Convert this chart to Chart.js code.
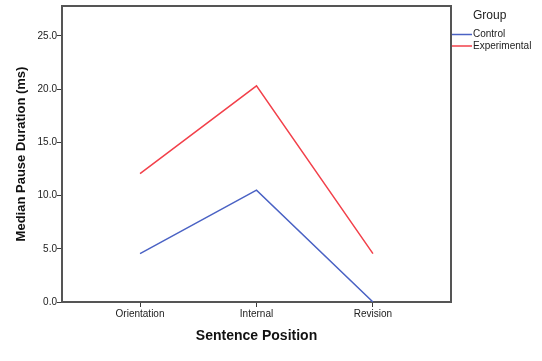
<!DOCTYPE html>
<html>
<head>
<meta charset="utf-8">
<script src="https://cdn.jsdelivr.net/npm/chart.js@4/dist/chart.umd.min.js"></script>
<style>
  html, body { margin: 0; padding: 0; background: #ffffff; }
  canvas { display: block; }
</style>
</head>
<body>
<canvas id="c" width="542" height="361"></canvas>
<script>
// ---- Data ----
const categories = ["Orientation", "Internal", "Revision"];
const controlValues = [4.55, 10.5, 0.0];
const experimentalValues = [12.05, 20.3, 4.55];
const yTickValues = [0, 5, 10, 15, 20, 25];
const seriesNames = ["Control", "Experimental"];
const legendTitle = "Group";
const xTitle = "Sentence Position";
const yTitle = "Median Pause Duration (ms)";

const colors = ["#4a62c4", "#f2404a"];
const FONT = "'Liberation Sans', Arial, sans-serif";

function toPoints(vals) { return vals.map((v, i) => ({ x: i, y: v })); }

const framePlugin = {
  id: 'frame',
  beforeDatasetsDraw(chart) {
    const { ctx, chartArea: a } = chart;
    ctx.save();
    ctx.strokeStyle = '#555555';
    ctx.lineWidth = 2;
    ctx.strokeRect(a.left, a.top, a.right - a.left, a.bottom - a.top);
    ctx.restore();
  }
};

const legendPlugin = {
  id: 'customLegend',
  afterDraw(chart) {
    const ctx = chart.ctx;
    ctx.save();
    ctx.fillStyle = '#222';
    ctx.textBaseline = 'middle';
    ctx.textAlign = 'left';
    ctx.font = "12px " + FONT;
    ctx.fillText(legendTitle, 473, 16);
    ctx.font = "10px " + FONT;
    const ys = [34.5, 46];
    seriesNames.forEach((n, i) => {
      ctx.strokeStyle = colors[i];
      ctx.lineWidth = 1.5;
      ctx.beginPath();
      ctx.moveTo(452, ys[i]);
      ctx.lineTo(472, ys[i]);
      ctx.stroke();
      ctx.fillStyle = '#222';
      ctx.fillText(n, 473, ys[i]);
    });
    ctx.restore();
  }
};

new Chart(document.getElementById('c'), {
  type: 'line',
  data: {
    datasets: [
      { label: seriesNames[0], data: toPoints(controlValues), borderColor: colors[0], backgroundColor: colors[0], borderWidth: 1.5, pointRadius: 0, tension: 0, fill: false },
      { label: seriesNames[1], data: toPoints(experimentalValues), borderColor: colors[1], backgroundColor: colors[1], borderWidth: 1.5, pointRadius: 0, tension: 0, fill: false }
    ]
  },
  options: {
    responsive: false,
    animation: false,
    devicePixelRatio: 1,
    layout: { padding: { left: 0, top: 3, right: 91, bottom: 0 } },
    plugins: { legend: { display: false }, tooltip: { enabled: false } },
    scales: {
      x: {
        type: 'linear',
        min: -0.67, max: 2.67,
        afterBuildTicks(s) { s.ticks = categories.map((c, i) => ({ value: i })); },
        afterFit(s) { s.height = 59; },
        grid: { display: true, drawOnChartArea: false, drawTicks: true, tickLength: 5, color: '#3a3a3a', lineWidth: 1 },
        border: { display: false },
        ticks: { padding: 1, color: '#222', font: { family: FONT, size: 10 }, maxRotation: 0, autoSkip: false,
          callback(v) { return categories[v]; } },
        title: { display: true, text: xTitle, color: '#111', font: { family: FONT, size: 14, weight: 'bold' }, padding: { top: 0, bottom: 16 } }
      },
      y: {
        type: 'linear',
        min: 0, max: 27.8,
        afterBuildTicks(s) { s.ticks = yTickValues.map(v => ({ value: v })); },
        afterFit(s) { s.width = 62; },
        grid: { display: true, drawOnChartArea: false, drawTicks: true, tickLength: 5, color: '#3a3a3a', lineWidth: 1 },
        border: { display: false },
        ticks: { padding: 0, color: '#222', font: { family: FONT, size: 10 }, callback(v) { return v.toFixed(1); } },
        title: { display: true, text: yTitle, color: '#111', font: { family: FONT, size: 13, weight: 'bold' }, padding: { top: 14, bottom: 0 } }
      }
    }
  },
  plugins: [framePlugin, legendPlugin]
});
</script>
</body>
</html>
